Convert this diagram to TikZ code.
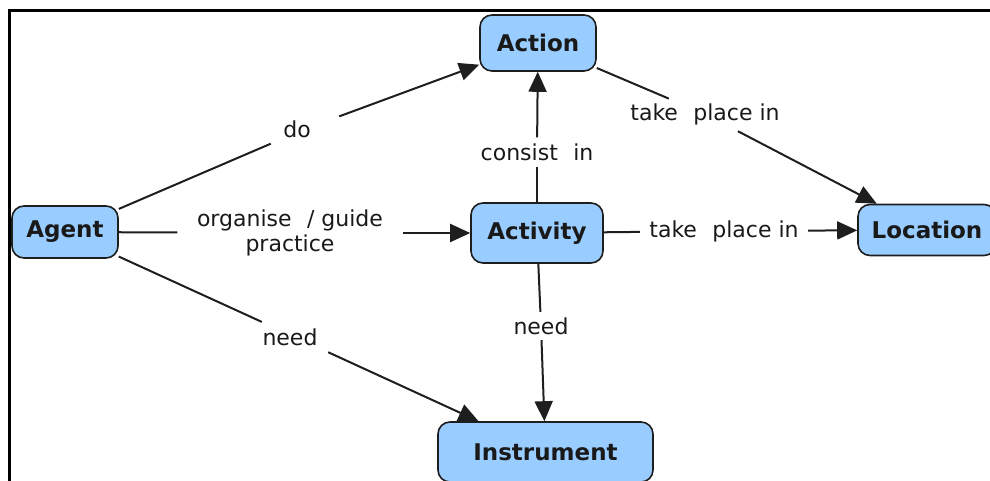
\documentclass[tikz,border=0pt]{standalone}
\usepackage{fontspec}
\setmainfont{DejaVu Sans}
\usetikzlibrary{arrows.meta}
\definecolor{cfill}{RGB}{153,204,255}
\definecolor{cline}{RGB}{30,30,30}
\definecolor{ctext}{RGB}{25,25,25}
\tikzset{
  concept/.style={draw=cline, line width=1.6pt, fill=cfill, rounded corners=12pt,
    font=\bfseries\fontsize{23}{25}\selectfont, text=ctext, inner sep=0pt},
  lbl/.style={font=\fontsize{22}{25}\selectfont, text=ctext, inner sep=0pt, align=center},
  edge/.style={line width=2pt, draw=cline},
  arr/.style={edge, -{Triangle[length=20pt,width=18pt]}},
  frame/.style={line width=3pt, draw=black}
}
\begin{document}
\begin{tikzpicture}[x=1pt,y=-1pt]
\useasboundingbox (0,0) rectangle (990,481);
\draw[frame] (9,481) -- (9,11) -- (990,11);

% concepts
\node[concept, minimum width=116pt, minimum height=56pt] (action) at (538,43) {Action};
\node[concept, minimum width=106pt, minimum height=52pt] (agent) at (65,232) {Agent};
\node[concept, minimum width=132pt, minimum height=60pt] (activity) at (537,233) {Activity};
\node[concept, minimum width=138pt, minimum height=51pt] (location) at (927,230) {Location};
\node[concept, minimum width=215pt, minimum height=60pt] (instrument) at (545.5,452) {Instrument};

% linking phrases
\node[lbl, minimum width=68pt, minimum height=30pt] (ldo) at (305,129) {\makebox[0pt]{do\hspace*{16pt}}};
\node[lbl, minimum width=225pt, minimum height=50pt] (lorg) at (290,233) {organise\hspace{0.7em}/ guide\\practice};
\node[lbl, minimum width=66pt, minimum height=34pt] (lneedA) at (295,337) {\makebox[0pt]{need\hspace*{10pt}}};
\node[lbl, minimum width=56pt, minimum height=28pt] (lneedB) at (541,326) {need};
\node[lbl, minimum width=120pt, minimum height=29pt] (lcons) at (537,152) {consist\hspace{0.7em}in};
\node[lbl, minimum width=72pt, minimum height=34pt] (ltakeA) at (705,114) {\makebox[0pt]{take\hspace{0.7em}place in}};
\node[lbl, minimum width=168pt, minimum height=30pt] (ltakeB) at (724,231) {take\hspace{0.7em}place in};

% connectors
\draw[edge] (agent) -- (ldo);
\draw[arr] (ldo) -- (action);
\draw[edge] (agent) -- (lorg);
\draw[arr] (lorg) -- (activity);
\draw[edge] (agent) -- (lneedA);
\draw[arr] (lneedA) -- (instrument);
\draw[edge] (activity) -- (lcons);
\draw[arr] (lcons) -- (action);
\draw[edge] (action) -- (ltakeA);
\draw[arr] (ltakeA) -- (location);
\draw[edge] (activity) -- (ltakeB);
\draw[arr] (ltakeB) -- (location);
\draw[edge] (activity) -- (lneedB);
\draw[arr] (lneedB) -- (instrument);
\end{tikzpicture}
\end{document}
